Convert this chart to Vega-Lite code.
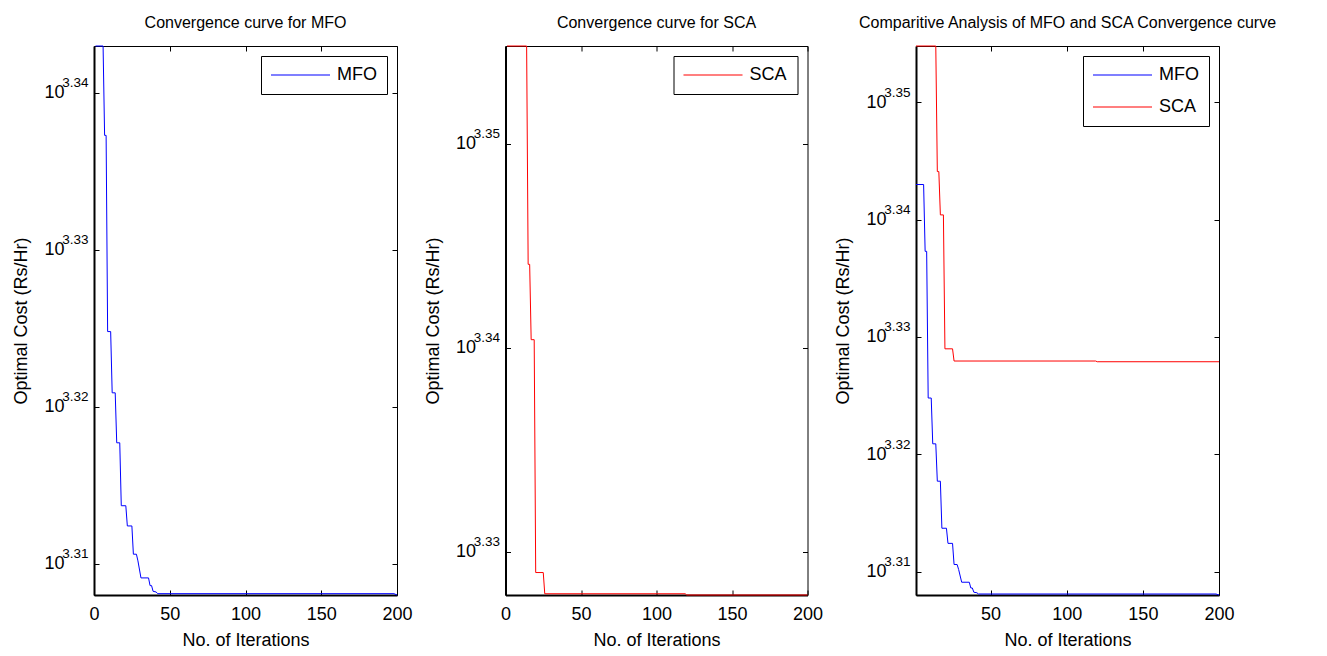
{
  "$schema": "https://vega.github.io/schema/vega-lite/v6.json",
  "background": "white",
  "padding": {"left": 12, "top": 14, "right": 5, "bottom": 5},
  "spacing": 108.5,
  "bounds": "flush",
  "resolve": {"scale": {"color": "independent"}, "legend": {"color": "independent"}},
  "config": {
    "font": "Liberation Sans",
    "view": {"stroke": "black", "strokeWidth": 1},
    "axis": {
      "grid": false,
      "labelFont": "Liberation Sans",
      "titleFont": "Liberation Sans",
      "labelFontSize": 18,
      "titleFontSize": 18,
      "titleFontWeight": "normal",
      "labelColor": "black",
      "titleColor": "black",
      "tickColor": "black",
      "domainColor": "black",
      "labelOverlap": false,
      "labelFlush": false,
      "labelBound": false
    },
    "title": {"font": "Liberation Sans", "fontSize": 16, "fontWeight": "normal", "color": "black", "offset": 13},
    "legend": {
      "orient": "top-right",
      "offset": 10,
      "strokeColor": "black",
      "fillColor": "white",
      "padding": 10,
      "symbolType": "M-3.28,-0.06H3.28V0.06H-3.28Z",
      "symbolSize": 324,
      "symbolOffset": 20.5,
      "symbolStrokeWidth": 0,
      "labelFont": "Liberation Sans",
      "labelFontSize": 18,
      "labelColor": "black",
      "labelOffset": 27.5,
      "rowPadding": 14,
      "cornerRadius": 0
    }
  },
  "datasets": {
    "conv": [
      {"iter": 1, "algo": "MFO", "cost": 2202.9},
      {"iter": 6, "algo": "MFO", "cost": 2202.9},
      {"iter": 7, "algo": "MFO", "cost": 2174.2},
      {"iter": 8, "algo": "MFO", "cost": 2174.2},
      {"iter": 9, "algo": "MFO", "cost": 2112.5},
      {"iter": 11, "algo": "MFO", "cost": 2112.5},
      {"iter": 12, "algo": "MFO", "cost": 2093.6},
      {"iter": 14, "algo": "MFO", "cost": 2093.6},
      {"iter": 15, "algo": "MFO", "cost": 2078.3},
      {"iter": 17, "algo": "MFO", "cost": 2078.3},
      {"iter": 18, "algo": "MFO", "cost": 2059.2},
      {"iter": 21, "algo": "MFO", "cost": 2059.2},
      {"iter": 22, "algo": "MFO", "cost": 2053.1},
      {"iter": 25, "algo": "MFO", "cost": 2053.1},
      {"iter": 26, "algo": "MFO", "cost": 2044.6},
      {"iter": 28, "algo": "MFO", "cost": 2044.6},
      {"iter": 29, "algo": "MFO", "cost": 2042.6},
      {"iter": 31, "algo": "MFO", "cost": 2037.5},
      {"iter": 36, "algo": "MFO", "cost": 2037.5},
      {"iter": 37, "algo": "MFO", "cost": 2035.2},
      {"iter": 38, "algo": "MFO", "cost": 2035.2},
      {"iter": 39, "algo": "MFO", "cost": 2033.5},
      {"iter": 41, "algo": "MFO", "cost": 2033.3},
      {"iter": 42, "algo": "MFO", "cost": 2032.8},
      {"iter": 198, "algo": "MFO", "cost": 2032.8},
      {"iter": 200, "algo": "MFO", "cost": 2032.4},
      {"iter": 1, "algo": "SCA", "cost": 2263.6},
      {"iter": 14, "algo": "SCA", "cost": 2263.6},
      {"iter": 15, "algo": "SCA", "cost": 2208.5},
      {"iter": 16, "algo": "SCA", "cost": 2208.5},
      {"iter": 17, "algo": "SCA", "cost": 2189.8},
      {"iter": 19, "algo": "SCA", "cost": 2189.8},
      {"iter": 20, "algo": "SCA", "cost": 2133.0},
      {"iter": 25, "algo": "SCA", "cost": 2133.0},
      {"iter": 26, "algo": "SCA", "cost": 2127.9},
      {"iter": 119, "algo": "SCA", "cost": 2127.9},
      {"iter": 120, "algo": "SCA", "cost": 2127.6},
      {"iter": 200, "algo": "SCA", "cost": 2127.6}
    ]
  },
  "hconcat": [
    {
      "width": 303,
      "height": 549,
      "title": "Convergence curve for MFO",
      "data": {"name": "conv"},
      "transform": [{"filter": "datum.algo == 'MFO'"}],
      "resolve": {"axis": {"x": "independent", "y": "independent"}},
      "layer": [
        {
          "mark": {"type": "line", "strokeWidth": 1},
          "encoding": {
            "x": {"field": "iter", "type": "quantitative", "scale": {"domain": [0, 200], "nice": false, "zero": false},
              "axis": {"orient": "bottom", "values": [0, 50, 100, 150, 200], "tickSize": -5, "labelPadding": 15, "title": "No. of Iterations", "titlePadding": 8, "domainWidth": 2}},
            "y": {"field": "cost", "type": "quantitative", "scale": {"type": "log", "domain": [2032.4, 2202.9], "nice": false, "zero": false},
              "axis": {"orient": "left", "values": [2041.738, 2089.296, 2137.962, 2187.762], "labelExpr": "'10'", "tickSize": -5, "labelPadding": 35, "title": "Optimal Cost (Rs/Hr)", "titlePadding": 13, "domainWidth": 2}},
            "color": {"field": "algo", "type": "nominal", "scale": {"domain": ["MFO"], "range": ["#0000ff"]},
              "legend": {"title": null, "encode": {"symbols": {"update": {"fill": {"signal": "datum.value === 'SCA' ? '#ff0000' : '#0000ff'"}, "stroke": {"value": "transparent"}, "opacity": {"value": 1}, "fillOpacity": {"value": 1}}}}}}
          }
        },
        {
          "mark": {"type": "line", "opacity": 0},
          "encoding": {
            "x": {"field": "iter", "type": "quantitative", "scale": {"domain": [0, 200], "nice": false, "zero": false},
              "axis": {"orient": "top", "values": [0, 50, 100, 150, 200], "labels": false, "tickSize": -5, "domain": false, "title": null}},
            "y": {"field": "cost", "type": "quantitative", "scale": {"type": "log", "domain": [2032.4, 2202.9], "nice": false, "zero": false},
              "axis": {"orient": "left", "values": [2041.738, 2089.296, 2137.962, 2187.762], "labelExpr": "format(log(datum.value)/LN10, '.2f')", "ticks": false, "domain": false, "labelFontSize": 13.5, "labelOffset": -10, "labelPadding": 6, "title": null}}
          }
        },
        {
          "mark": {"type": "line", "opacity": 0},
          "encoding": {
            "x": {"field": "iter", "type": "quantitative", "scale": {"domain": [0, 200], "nice": false, "zero": false}, "axis": null},
            "y": {"field": "cost", "type": "quantitative", "scale": {"type": "log", "domain": [2032.4, 2202.9], "nice": false, "zero": false},
              "axis": {"orient": "right", "values": [2041.738, 2089.296, 2137.962, 2187.762], "labels": false, "tickSize": -5, "domain": false, "title": null}}
          }
        }
      ]
    },
    {
      "width": 302,
      "height": 549,
      "title": "Convergence curve for SCA",
      "data": {"name": "conv"},
      "transform": [{"filter": "datum.algo == 'SCA'"}],
      "resolve": {"axis": {"x": "independent", "y": "independent"}},
      "layer": [
        {
          "mark": {"type": "line", "strokeWidth": 1},
          "encoding": {
            "x": {"field": "iter", "type": "quantitative", "scale": {"domain": [0, 200], "nice": false, "zero": false},
              "axis": {"orient": "bottom", "values": [0, 50, 100, 150, 200], "tickSize": -5, "labelPadding": 15, "title": "No. of Iterations", "titlePadding": 8, "domainWidth": 2}},
            "y": {"field": "cost", "type": "quantitative", "scale": {"type": "log", "domain": [2127.6, 2263.6], "nice": false, "zero": false},
              "axis": {"orient": "left", "values": [2137.962, 2187.762, 2238.721], "labelExpr": "'10'", "tickSize": -5, "labelPadding": 35, "title": "Optimal Cost (Rs/Hr)", "titlePadding": 13, "domainWidth": 2}},
            "color": {"field": "algo", "type": "nominal", "scale": {"domain": ["SCA"], "range": ["#ff0000"]},
              "legend": {"title": null, "encode": {"symbols": {"update": {"fill": {"signal": "datum.value === 'SCA' ? '#ff0000' : '#0000ff'"}, "stroke": {"value": "transparent"}, "opacity": {"value": 1}, "fillOpacity": {"value": 1}}}}}}
          }
        },
        {
          "mark": {"type": "line", "opacity": 0},
          "encoding": {
            "x": {"field": "iter", "type": "quantitative", "scale": {"domain": [0, 200], "nice": false, "zero": false},
              "axis": {"orient": "top", "values": [0, 50, 100, 150, 200], "labels": false, "tickSize": -5, "domain": false, "title": null}},
            "y": {"field": "cost", "type": "quantitative", "scale": {"type": "log", "domain": [2127.6, 2263.6], "nice": false, "zero": false},
              "axis": {"orient": "left", "values": [2137.962, 2187.762, 2238.721], "labelExpr": "format(log(datum.value)/LN10, '.2f')", "ticks": false, "domain": false, "labelFontSize": 13.5, "labelOffset": -10, "labelPadding": 6, "title": null}}
          }
        },
        {
          "mark": {"type": "line", "opacity": 0},
          "encoding": {
            "x": {"field": "iter", "type": "quantitative", "scale": {"domain": [0, 200], "nice": false, "zero": false}, "axis": null},
            "y": {"field": "cost", "type": "quantitative", "scale": {"type": "log", "domain": [2127.6, 2263.6], "nice": false, "zero": false},
              "axis": {"orient": "right", "values": [2137.962, 2187.762, 2238.721], "labels": false, "tickSize": -5, "domain": false, "title": null}}
          }
        }
      ]
    },
    {
      "width": 303,
      "height": 549,
      "title": "Comparitive Analysis of MFO and SCA Convergence curve",
      "data": {"name": "conv"},
      "resolve": {"axis": {"x": "independent", "y": "independent"}},
      "layer": [
        {
          "mark": {"type": "line", "strokeWidth": 1},
          "encoding": {
            "x": {"field": "iter", "type": "quantitative", "scale": {"domain": [1, 200], "nice": false, "zero": false},
              "axis": {"orient": "bottom", "values": [50, 100, 150, 200], "tickSize": -5, "labelPadding": 15, "title": "No. of Iterations", "titlePadding": 8, "domainWidth": 2}},
            "y": {"field": "cost", "type": "quantitative", "scale": {"type": "log", "domain": [2032.4, 2263.6], "nice": false, "zero": false},
              "axis": {"orient": "left", "values": [2041.738, 2089.296, 2137.962, 2187.762, 2238.721], "labelExpr": "'10'", "tickSize": -5, "labelPadding": 35, "title": "Optimal Cost (Rs/Hr)", "titlePadding": 13, "domainWidth": 2}},
            "color": {"field": "algo", "type": "nominal", "scale": {"domain": ["MFO", "SCA"], "range": ["#0000ff", "#ff0000"]},
              "legend": {"title": null, "encode": {"symbols": {"update": {"fill": {"signal": "datum.value === 'SCA' ? '#ff0000' : '#0000ff'"}, "stroke": {"value": "transparent"}, "opacity": {"value": 1}, "fillOpacity": {"value": 1}}}}}}
          }
        },
        {
          "mark": {"type": "line", "opacity": 0},
          "encoding": {
            "detail": {"field": "algo"},
            "x": {"field": "iter", "type": "quantitative", "scale": {"domain": [1, 200], "nice": false, "zero": false},
              "axis": {"orient": "top", "values": [50, 100, 150, 200], "labels": false, "tickSize": -5, "domain": false, "title": null}},
            "y": {"field": "cost", "type": "quantitative", "scale": {"type": "log", "domain": [2032.4, 2263.6], "nice": false, "zero": false},
              "axis": {"orient": "left", "values": [2041.738, 2089.296, 2137.962, 2187.762, 2238.721], "labelExpr": "format(log(datum.value)/LN10, '.2f')", "ticks": false, "domain": false, "labelFontSize": 13.5, "labelOffset": -10, "labelPadding": 6, "title": null}}
          }
        },
        {
          "mark": {"type": "line", "opacity": 0},
          "encoding": {
            "detail": {"field": "algo"},
            "x": {"field": "iter", "type": "quantitative", "scale": {"domain": [1, 200], "nice": false, "zero": false}, "axis": null},
            "y": {"field": "cost", "type": "quantitative", "scale": {"type": "log", "domain": [2032.4, 2263.6], "nice": false, "zero": false},
              "axis": {"orient": "right", "values": [2041.738, 2089.296, 2137.962, 2187.762, 2238.721], "labels": false, "tickSize": -5, "domain": false, "title": null}}
          }
        }
      ]
    }
  ]
}
